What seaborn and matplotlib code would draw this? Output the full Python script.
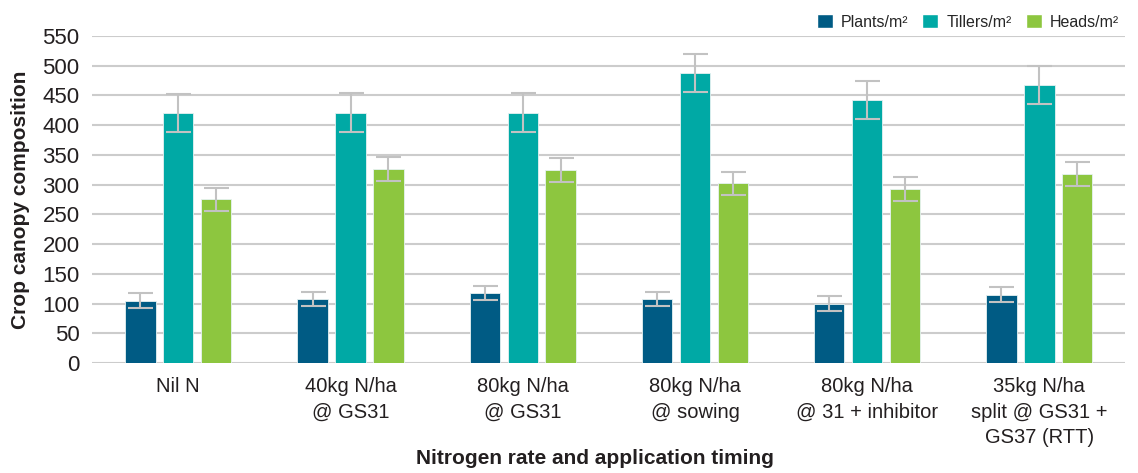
import numpy as np
import pandas as pd
import seaborn as sns
import matplotlib.pyplot as plt
from matplotlib.patches import Patch

sns.set_theme(style="white")
plt.rcParams['font.family'] = ['Liberation Sans', 'DejaVu Sans']

# Datos
tratamientos = ['Nil N', '40kg N/ha\n@ GS31', '80kg N/ha\n@ GS31', '80kg N/ha\n@ sowing',
                '80kg N/ha\n@ 31 + inhibitor', '35kg N/ha\nsplit @ GS31 +\nGS37 (RTT)']
series = ['Plants/m²', 'Tillers/m²', 'Heads/m²']
plants = [105, 108, 118, 108, 100, 115]
tillers = [420, 421, 421, 487, 442, 468]
heads = [275, 326, 325, 302, 292, 318]
err_plants = [12, 12, 12, 12, 12, 12]
err_tillers = [32, 33, 33, 32, 32, 32]
err_heads = [20, 20, 20, 20, 20, 20]

colores = ['#005B84', '#00A9A5', '#8DC63F']

df = pd.DataFrame({
    'Tratamiento': tratamientos * 3,
    'Serie': [series[0]] * 6 + [series[1]] * 6 + [series[2]] * 6,
    'Valor': plants + tillers + heads,
})
errores = err_plants + err_tillers + err_heads

fig = plt.figure(figsize=(11.38, 4.73), dpi=100)
ax = fig.add_axes([0.081, 0.2326, 0.908, 0.6913])

sns.barplot(data=df, x='Tratamiento', y='Valor', hue='Serie', palette=colores,
            saturation=1, width=0.66, gap=0.2, errorbar=None, legend=False, ax=ax,
            edgecolor='#e6f2f2', linewidth=0.6, zorder=3)

# Barras de error
barras = [p for p in ax.patches]
for p, e in zip(barras, errores):
    xc = p.get_x() + p.get_width() / 2
    ax.errorbar(xc, p.get_height(), yerr=e, color='#c2c2c2', capsize=9,
                elinewidth=1.5, capthick=1.5, zorder=4)

ax.set_ylim(0, 550)
ax.set_yticks(range(0, 551, 50))
ax.set_xlim(-0.5, 5.5)
ax.yaxis.grid(True, color='#cccccc', linewidth=1.5, zorder=0)
ax.set_axisbelow(True)
for s in ax.spines.values():
    s.set_visible(False)
ax.tick_params(axis='y', labelsize=16, colors='#231f20', length=0, pad=9)
ax.tick_params(axis='x', labelsize=14.5, colors='#231f20', length=0, pad=10)
for t in ax.get_xticklabels():
    t.set_linespacing(1.45)

ax.set_ylabel('Crop canopy composition', fontsize=15, fontweight='bold', color='#231f20')
ax.yaxis.set_label_coords(-0.06, 0.5)
ax.set_xlabel('Nitrogen rate and application timing', fontsize=15, fontweight='bold',
              color='#231f20')
ax.xaxis.set_label_coords(0.487, -0.262)

handles = [Patch(facecolor=c, label=s) for c, s in zip(colores, series)]
ax.legend(handles=handles, loc='lower right', bbox_to_anchor=(1.0, 1.0), ncol=3,
          frameon=False, fontsize=11.5, handlelength=1.0, handleheight=1.0,
          columnspacing=0.9, handletextpad=0.5, borderaxespad=0.2, borderpad=0.2)

plt.savefig('out.png', dpi=100)
plt.close()
